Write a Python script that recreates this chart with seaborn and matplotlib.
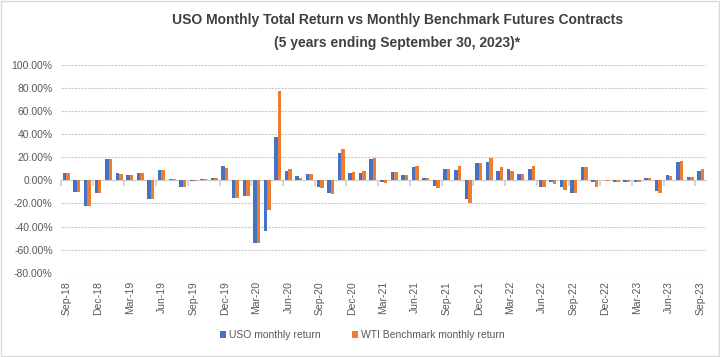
import pandas as pd
import matplotlib.pyplot as plt
import seaborn as sns
from matplotlib.ticker import PercentFormatter, FixedLocator
from matplotlib.patches import Rectangle

# ---------------------------------------------------------
# Dati (rendimenti mensili in %, Sep-18 .. Sep-23)
# ---------------------------------------------------------
months = pd.date_range("2018-09-01", "2023-09-01", freq="MS").strftime("%b-%y").tolist()

uso_return = [
    6.0, -9.7, -22.0, -10.6, 18.2, 6.8, 5.0, 6.8, -16.2, 9.4,
    1.2, -5.3, -0.6, 1.0, 2.0, 12.1, -15.3, -13.2, -54.0, -43.7,
    38.0, 8.5, 4.1, 5.9, -5.3, -10.9, 23.5, 6.8, 6.8, 18.2,
    -1.0, 7.6, 5.0, 11.2, 2.4, -4.7, 10.3, 9.4, -16.2, 14.7,
    15.6, 8.5, 10.3, 5.9, 10.3, -5.3, -1.8, -5.3, -10.6, 11.2,
    -1.8, 0.3, -1.0, -1.8, -1.0, 2.4, -9.1, 5.0, 15.6, 3.2,
    8.5,
]
wti_return = [
    6.0, -9.7, -22.0, -10.8, 18.2, 5.9, 5.0, 6.8, -16.2, 9.4,
    1.0, -5.6, -0.6, 1.0, 2.0, 10.9, -15.3, -13.2, -54.0, -25.6,
    77.7, 10.3, 2.4, 5.9, -6.5, -11.8, 27.0, 7.6, 8.5, 19.1,
    -2.4, 7.6, 5.0, 12.1, 2.4, -6.5, 10.3, 12.9, -19.7, 14.7,
    19.1, 11.2, 8.5, 5.9, 12.1, -5.3, -3.5, -7.9, -10.6, 11.2,
    -5.3, -0.4, -1.0, -1.8, -1.0, 2.4, -10.9, 4.1, 16.5, 3.2,
    10.3,
]

series_names = ["USO monthly return", "WTI Benchmark monthly return"]
colors = ["#4472C4", "#ED7D31"]

df = pd.DataFrame({
    "Month": months * 2,
    "Return": uso_return + wti_return,
    "Series": [series_names[0]] * len(months) + [series_names[1]] * len(months),
})

# ---------------------------------------------------------
# Stile
# ---------------------------------------------------------
sns.set_theme(style="white")
plt.rcParams["font.family"] = ["Liberation Sans", "DejaVu Sans"]
plt.rcParams["axes.unicode_minus"] = False

fig = plt.figure(figsize=(7.2, 3.57), dpi=100)
ax = fig.add_axes([61 / 720, 1 - 272.7 / 357, (706 - 61) / 720, (272.7 - 65) / 357])

sns.barplot(
    data=df, x="Month", y="Return", hue="Series",
    order=months, hue_order=series_names, palette=colors,
    width=0.66, saturation=1, linewidth=0, ax=ax,
)

ax.set_ylim(-80, 100)
ax.set_xlim(-0.5, len(months) - 0.5)
ax.set_yticks(range(-80, 101, 20))
ax.yaxis.set_major_formatter(PercentFormatter(xmax=100, decimals=2))
ax.grid(axis="y", color="#C9C9C9", linestyle=(0, (2, 1)), linewidth=0.8)
ax.set_axisbelow(True)
for s in ax.spines.values():
    s.set_visible(False)

ax.set_xlabel("")
ax.set_ylabel("")
ax.set_xticks(range(0, len(months), 3))
ax.set_xticklabels(months[::3], rotation=90)
ax.tick_params(axis="both", length=0, labelsize=7.5, labelcolor="#595959")
ax.tick_params(axis="x", pad=6)
ax.tick_params(axis="y", pad=6)

# asse orizzontale sullo zero con tacche ogni 3 categorie
sec = ax.secondary_xaxis(80 / 180)
sec.xaxis.set_major_locator(FixedLocator([i - 0.5 for i in range(0, len(months) + 1, 3)]))
sec.tick_params(axis="x", direction="out", length=4, color="#D0D0D0",
                labelbottom=False, labeltop=False, bottom=True, top=False)
sec.spines["bottom"].set_color("#D0D0D0")
sec.spines["bottom"].set_linewidth(0.8)
for k in ["top", "left", "right"]:
    if k in sec.spines:
        sec.spines[k].set_visible(False)

# Legenda
handles, labels = ax.get_legend_handles_labels()
ax.get_legend().remove()
fig.legend(handles, labels, loc="center", bbox_to_anchor=(0.503, 0.062), ncol=2,
           frameon=False, fontsize=7.5, handlelength=0.6, handleheight=0.6,
           handletextpad=0.3, columnspacing=3.0, labelcolor="#595959")

fig.text(0.552, 0.912, "USO Monthly Total Return vs Monthly Benchmark Futures Contracts\n"
         "(5 years ending September 30, 2023)*",
         ha="center", va="center", fontsize=10, fontweight="bold", color="#404040",
         linespacing=1.75)

fig.patches.append(Rectangle((0.001, 0.002), 0.997, 0.995, transform=fig.transFigure,
                             fill=False, edgecolor="#D9D9D9", linewidth=1))

fig.savefig("out.png", dpi=100)
